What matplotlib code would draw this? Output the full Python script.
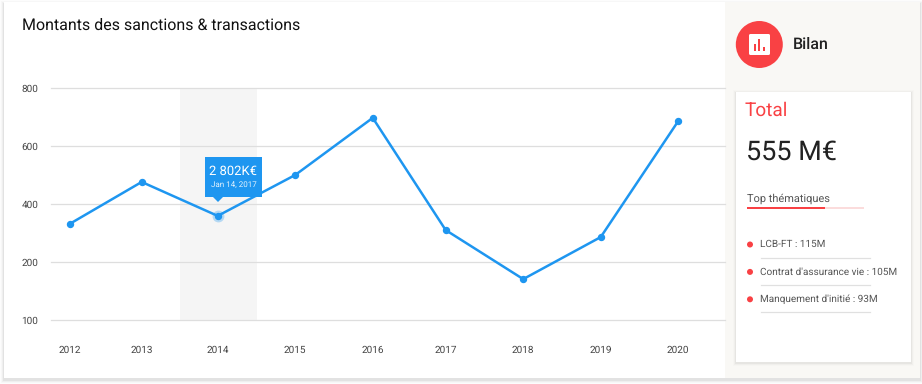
import matplotlib
matplotlib.use("Agg")
import matplotlib.pyplot as plt
from matplotlib.patches import Rectangle, FancyBboxPatch, Circle, Polygon

plt.rcParams["font.family"] = ["Roboto", "DejaVu Sans"]
plt.rcParams["text.hinting"] = "no_hinting"
plt.rcParams["text.hinting_factor"] = 1

# data (x slightly irregular in the original)
years = ["2012", "2013", "2014", "2015", "2016", "2017", "2018", "2019", "2020"]
year_pos = [0, 0.95, 1.95, 2.97, 3.99, 4.95, 5.97, 6.99, 8.01]
values = [331, 476, 359, 500, 697, 310, 141, 286, 686]
y_ticks = [0, 200, 400, 600, 800]
y_labels = ["100", "200", "400", "600", "800"]
hover_idx = 2
topics = ["LCB-FT : 115M", "Contrat d'assurance vie : 105M", "Manquement d'initié : 93M"]

BLUE = "#1e96f0"
RED = "#f94144"
W, H = 922, 384

fig = plt.figure(figsize=(W / 100, H / 100), dpi=100, facecolor="white")

# pixel-coordinate layer for the cards
bg = fig.add_axes([0, 0, 1, 1], zorder=0)
bg.set_xlim(0, W)
bg.set_ylim(H, 0)
bg.axis("off")

# soft shadow of outer card
for i, a in zip([4, 3, 2, 1], [0.012, 0.02, 0.03, 0.05]):
    bg.add_patch(Rectangle((4 - i, 2 - i + 2), 916 + 2 * i, 376 + 2 * i, color="black", alpha=a, lw=0))
bg.add_patch(Rectangle((4, 2), 916, 376, color="white", lw=0))
bg.add_patch(Rectangle((725, 2), 195, 376, color="#f9f8f5", lw=0))

bg.text(22, 25, "Montants des sanctions & transactions", fontsize=11.2, fontweight="regular",
        color="#111111", va="center", ha="left")

# main chart
ax = fig.add_axes([51 / W, 1 - 320 / H, (725 - 51) / W, 232 / H], zorder=1)
ax.patch.set_alpha(0)
x_per_px = 1 / 76
ax.set_xlim(-(69.5 - 51) * x_per_px, (725 - 69.5) * x_per_px)
ax.set_ylim(0, 800)
for s in ax.spines.values():
    s.set_visible(False)
ax.set_yticks(y_ticks)
ax.set_yticklabels(y_labels, fontsize=7.4, color="#444444")
ax.set_xticks(year_pos)
ax.set_xticklabels(years, fontsize=7.4, color="#444444")
ax.tick_params(length=0)
ax.tick_params(axis="x", pad=18.5)
ax.tick_params(axis="y", pad=9)
ax.grid(axis="y", color="#dedede", lw=0.9)
ax.set_axisbelow(True)
for gl in ax.get_ygridlines():
    gl.set_clip_on(False)

hx = year_pos[hover_idx]
ax.axvspan(hx - 38 * x_per_px, hx + 39 * x_per_px, color="#f5f5f5", lw=0, zorder=0)
ax.plot(year_pos, values, color=BLUE, lw=1.8, marker="o", ms=4.3, solid_joinstyle="miter", clip_on=False)
ax.plot(hx, values[hover_idx], "o", color=BLUE, ms=8.5, alpha=0.3, mew=0)

# overlay for tooltip and right panel
top = fig.add_axes([0, 0, 1, 1], zorder=2)
top.set_xlim(0, W)
top.set_ylim(H, 0)
top.axis("off")

# tooltip
top.add_patch(Rectangle((205, 157), 57, 40, color=BLUE, lw=0))
top.add_patch(Polygon([[213, 197], [223, 197], [218, 202]], color=BLUE, lw=0))
top.text(233, 171, "2 802K€", fontsize=9.4, color="white", ha="center", va="center")
top.text(233.5, 185, "Jan 14, 2017", fontsize=5.8, color="#e3f2fd", ha="center", va="center")

# Bilan icon
top.add_patch(Circle((759.3, 44.5), 23.5, color=RED, lw=0))
top.add_patch(FancyBboxPatch((749, 34), 21, 21, boxstyle="round,pad=0,rounding_size=1.5", color="white", lw=0))
top.add_patch(Rectangle((753.5, 44), 2.2, 6.5, color=RED, lw=0))
top.add_patch(Rectangle((758.2, 38.5), 2.2, 12, color=RED, lw=0))
top.add_patch(Rectangle((763, 46.5), 2.2, 4, color=RED, lw=0))
top.text(793, 44.5, "Bilan", fontsize=11.2, fontweight="medium", color="#222222", va="center")

# Total card
for i, a in zip([3, 2, 1], [0.012, 0.022, 0.04]):
    top.add_patch(Rectangle((736 - i, 92 - i + 1), 175 + 2 * i, 270 + 2 * i, color="black", alpha=a, lw=0))
top.add_patch(Rectangle((736, 92), 175, 270, color="white", lw=0))
top.text(745, 110.5, "Total", fontsize=14, color=RED, va="center")
top.text(746, 152, "555 M€", fontsize=19.7, color="#222222", va="center")
top.text(747, 198.5, "Top thématiques", fontsize=7.9, color="#555555", va="center")
top.add_patch(Rectangle((747, 206.5), 117, 2.2, color="#fbdcdc", lw=0))
top.add_patch(Rectangle((747, 206.5), 78, 2.2, color=RED, lw=0))

for i, t in enumerate(topics):
    yy = 244.5 + i * 27.4
    top.add_patch(Circle((750, yy), 3, color=RED, lw=0))
    top.text(760, yy, t, fontsize=7.05, color="#555555", va="center")
    top.plot([761, 870], [yy + 13, yy + 13], color="#e0e0e0", lw=0.9)

fig.savefig("out.png", dpi=100)
